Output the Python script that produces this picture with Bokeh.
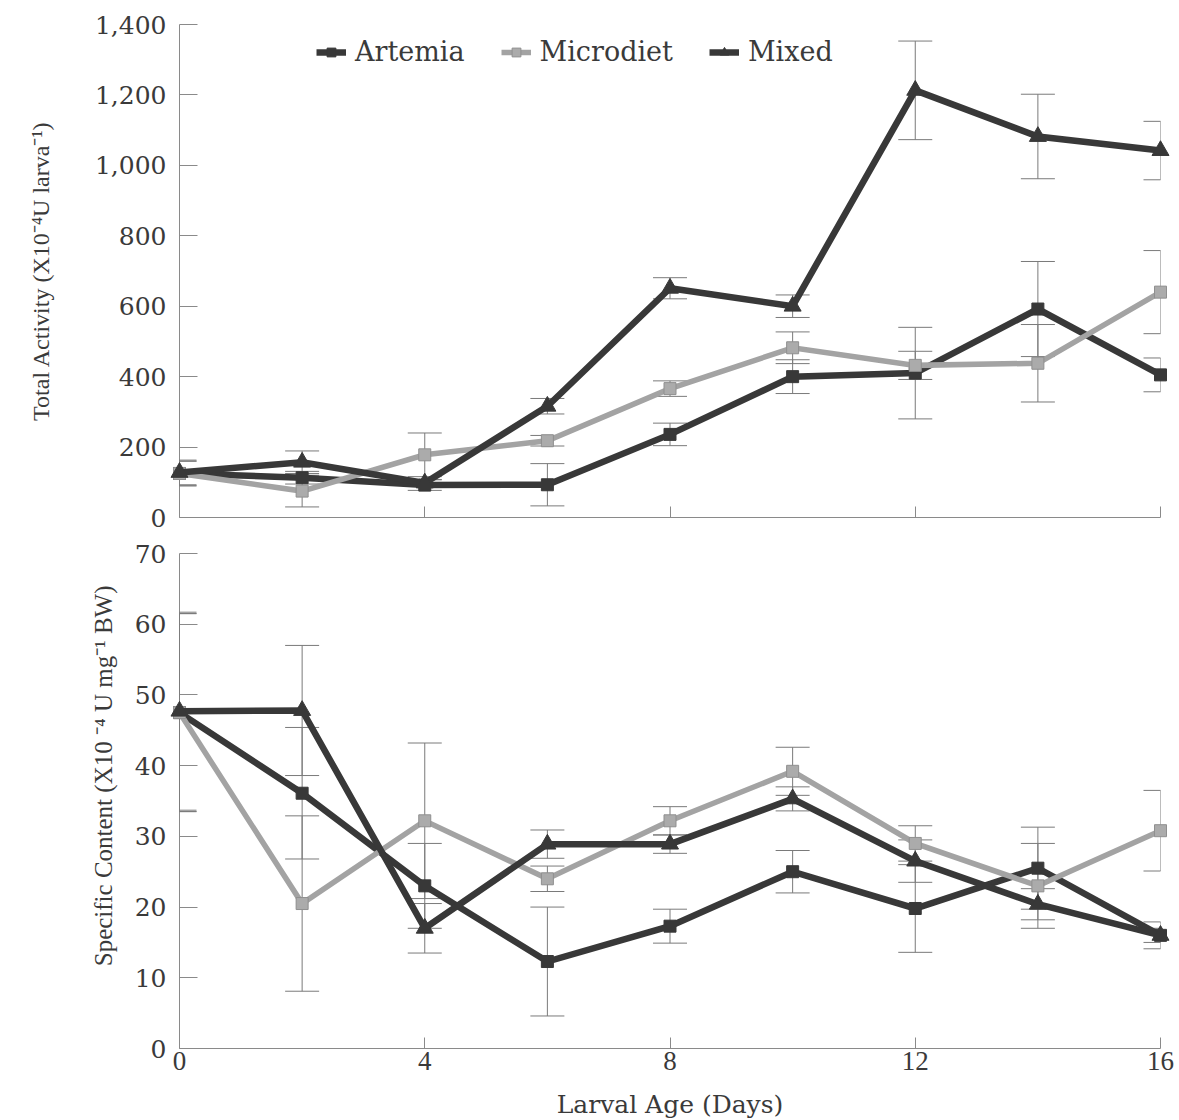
from bokeh.plotting import figure
from bokeh.models import (Legend, LegendItem, Whisker, TeeHead, ColumnDataSource,
                          FixedTicker, Range1d, NumeralTickFormatter, Title)
from bokeh.layouts import column
from bokeh.embed import file_html
from bokeh.resources import INLINE

# ---------------- data ----------------
days = [0, 2, 4, 6, 8, 10, 12, 14, 16]

# Total activity (X10^-4 U larva^-1)
ta_artemia = [125, 113, 92, 93, 236, 400, 410, 592, 405]
ta_artemia_err = [35, 18, 15, 60, 32, 48, 130, 135, 48]
ta_microdiet = [125, 75, 178, 218, 366, 482, 432, 438, 640]
ta_microdiet_err = [35, 45, 62, 15, 22, 45, 40, 110, 118]
ta_mixed = [128, 157, 98, 316, 651, 600, 1213, 1082, 1042]
ta_mixed_err = [35, 32, 10, 22, 30, 32, 140, 120, 83]

# Specific content (X10^-4 U mg^-1 BW)
sc_artemia = [47.5, 36.1, 23.0, 12.3, 17.3, 25.0, 19.8, 25.5, 16.0]
sc_artemia_err = [14, 9.3, 6, 7.7, 2.4, 3, 6.2, 5.8, 1.9]
sc_microdiet = [47.5, 20.5, 32.2, 24.0, 32.2, 39.2, 29.0, 23.0, 30.8]
sc_microdiet_err = [14, 12.4, 11, 1.8, 2, 3.4, 2.5, 6, 5.7]
sc_mixed = [47.7, 47.8, 17.0, 28.9, 28.9, 35.3, 26.5, 20.4, 16.0]
sc_mixed_err = [14, 9.2, 3.5, 2, 1.3, 1.7, 3, 2.2, 1]

series_names = ["Artemia", "Microdiet", "Mixed"]
x_ticks = [0, 4, 8, 12, 16]
ta_ticks = [0, 200, 400, 600, 800, 1000, 1200, 1400]
sc_ticks = [0, 10, 20, 30, 40, 50, 60, 70]

# ---------------- style ----------------
DARK = "#383838"
LIGHT = "#a3a3a3"
MFILL = "#ababab"
AX = "#8a8a8a"
ERR = "#7a7a7a"
TXT = "#3a3a3a"
TICKFONT = "DejaVu Serif"
TITLEFONT = "Liberation Serif"

styles = [
    dict(color=DARK, width=6.5, marker="square", size=12, fill=DARK, outline=DARK),
    dict(color=LIGHT, width=5.5, marker="square", size=12, fill=MFILL, outline="#8f8f8f"),
    dict(color=DARK, width=6.5, marker="triangle", size=17, fill=DARK, outline=DARK),
]


def style_fig(p):
    p.outline_line_color = None
    p.xgrid.visible = False
    p.ygrid.visible = False
    p.background_fill_color = "white"
    p.border_fill_color = "white"
    for ax in (p.xaxis[0], p.yaxis[0]):
        ax.axis_line_color = AX
        ax.axis_line_width = 1
        ax.major_tick_line_color = AX
        ax.major_tick_out = 0
        ax.minor_tick_line_color = None
        ax.axis_label_text_font_style = "normal"
        ax.axis_label_text_color = TXT
        ax.major_label_text_color = TXT
    p.yaxis[0].major_tick_in = 18
    p.xaxis[0].major_tick_in = 11
    p.xaxis[0].ticker = FixedTicker(ticks=x_ticks)


def add_series(p, values_list, errs_list):
    rends = []
    for vals, errs, st in zip(values_list, errs_list, styles):
        src = ColumnDataSource(dict(
            x=days, y=vals,
            lo=[v - e for v, e in zip(vals, errs)],
            hi=[v + e for v, e in zip(vals, errs)]))
        w = Whisker(source=src, base="x", lower="lo", upper="hi", dimension="height",
                    line_color=ERR, line_width=1, level="annotation",
                    upper_head=TeeHead(size=34, line_color=ERR, line_width=1),
                    lower_head=TeeHead(size=34, line_color=ERR, line_width=1))
        p.add_layout(w)
    for vals, st in zip(values_list, styles):
        src = ColumnDataSource(dict(x=days, y=vals))
        lr = p.line("x", "y", source=src, line_color=st["color"], line_width=st["width"],
                    line_join="miter")
        sr = p.scatter("x", "y", source=src, marker=st["marker"], size=st["size"],
                       fill_color=st["fill"], line_color=st["outline"], line_width=1)
        lr.level = "overlay"
        sr.level = "overlay"
        rends.append((lr, sr))
    return rends


# ---------------- top panel ----------------
p1 = figure(frame_width=981, frame_height=493,
            x_range=Range1d(0, 16), y_range=Range1d(0, 1400),
            output_backend="svg", toolbar_location=None,
            min_border_left=179, min_border_right=19,
            min_border_top=24, min_border_bottom=18)
style_fig(p1)
p1.yaxis[0].ticker = FixedTicker(ticks=ta_ticks)
p1.yaxis[0].formatter = NumeralTickFormatter(format="0,0")
p1.yaxis[0].major_label_text_font = TICKFONT
p1.yaxis[0].major_label_text_font_size = "25px"
p1.yaxis[0].major_label_standoff = 13
p1.yaxis[0].axis_label = "Total Activity (X10\u207b\u2074U larva\u207b\u00b9)"
p1.yaxis[0].axis_label_text_font = TITLEFONT
p1.yaxis[0].axis_label_text_font_size = "24px"
p1.yaxis[0].axis_label_standoff = 38
# top panel shows ticks only, no tick labels
p1.xaxis[0].major_label_text_font_size = "1px"
p1.xaxis[0].major_label_text_color = None
p1.xaxis[0].major_label_standoff = 0

r1 = add_series(p1, [ta_artemia, ta_microdiet, ta_mixed],
                [ta_artemia_err, ta_microdiet_err, ta_mixed_err])

legend = Legend(items=[LegendItem(label=n, renderers=[lr, sr]) for n, (lr, sr) in zip(series_names, r1)],
                orientation="horizontal", location=(135, 448),
                label_text_font=TICKFONT, label_text_font_size="27px",
                label_text_color=TXT, glyph_width=30, glyph_height=22,
                label_standoff=9, spacing=36, padding=2, margin=0,
                border_line_alpha=0, background_fill_alpha=0)
p1.add_layout(legend)

# ---------------- bottom panel ----------------
p2 = figure(frame_width=981, frame_height=495,
            x_range=Range1d(0, 16), y_range=Range1d(0, 70),
            output_backend="svg", toolbar_location=None,
            min_border_left=179, min_border_right=19,
            min_border_top=18, min_border_bottom=20)
style_fig(p2)
p2.yaxis[0].ticker = FixedTicker(ticks=sc_ticks)
p2.yaxis[0].major_label_text_font = TICKFONT
p2.yaxis[0].major_label_text_font_size = "25px"
p2.yaxis[0].major_label_standoff = 13
p2.xaxis[0].major_label_text_font = TITLEFONT
p2.xaxis[0].major_label_text_font_size = "27px"
p2.xaxis[0].major_label_standoff = 3
p2.xaxis[0].axis_label = "Larval Age (Days)"
p2.xaxis[0].axis_label_text_font = TICKFONT
p2.xaxis[0].axis_label_text_font_size = "25px"
p2.xaxis[0].axis_label_standoff = 17

# y title of the lower panel sits a little above the frame centre in the reference
ytitle2 = Title(text="Specific Content (X10 \u207b\u2074 U mg\u207b\u00b9 BW)",
                align="right", offset=32, standoff=30,
                text_font=TITLEFONT, text_font_size="25px", text_font_style="normal",
                text_color=TXT)
p2.add_layout(ytitle2, "left")

add_series(p2, [sc_artemia, sc_microdiet, sc_mixed],
           [sc_artemia_err, sc_microdiet_err, sc_mixed_err])

layout = column(p1, p2, spacing=0)
open("out.html", "w").write(file_html(layout, INLINE))
